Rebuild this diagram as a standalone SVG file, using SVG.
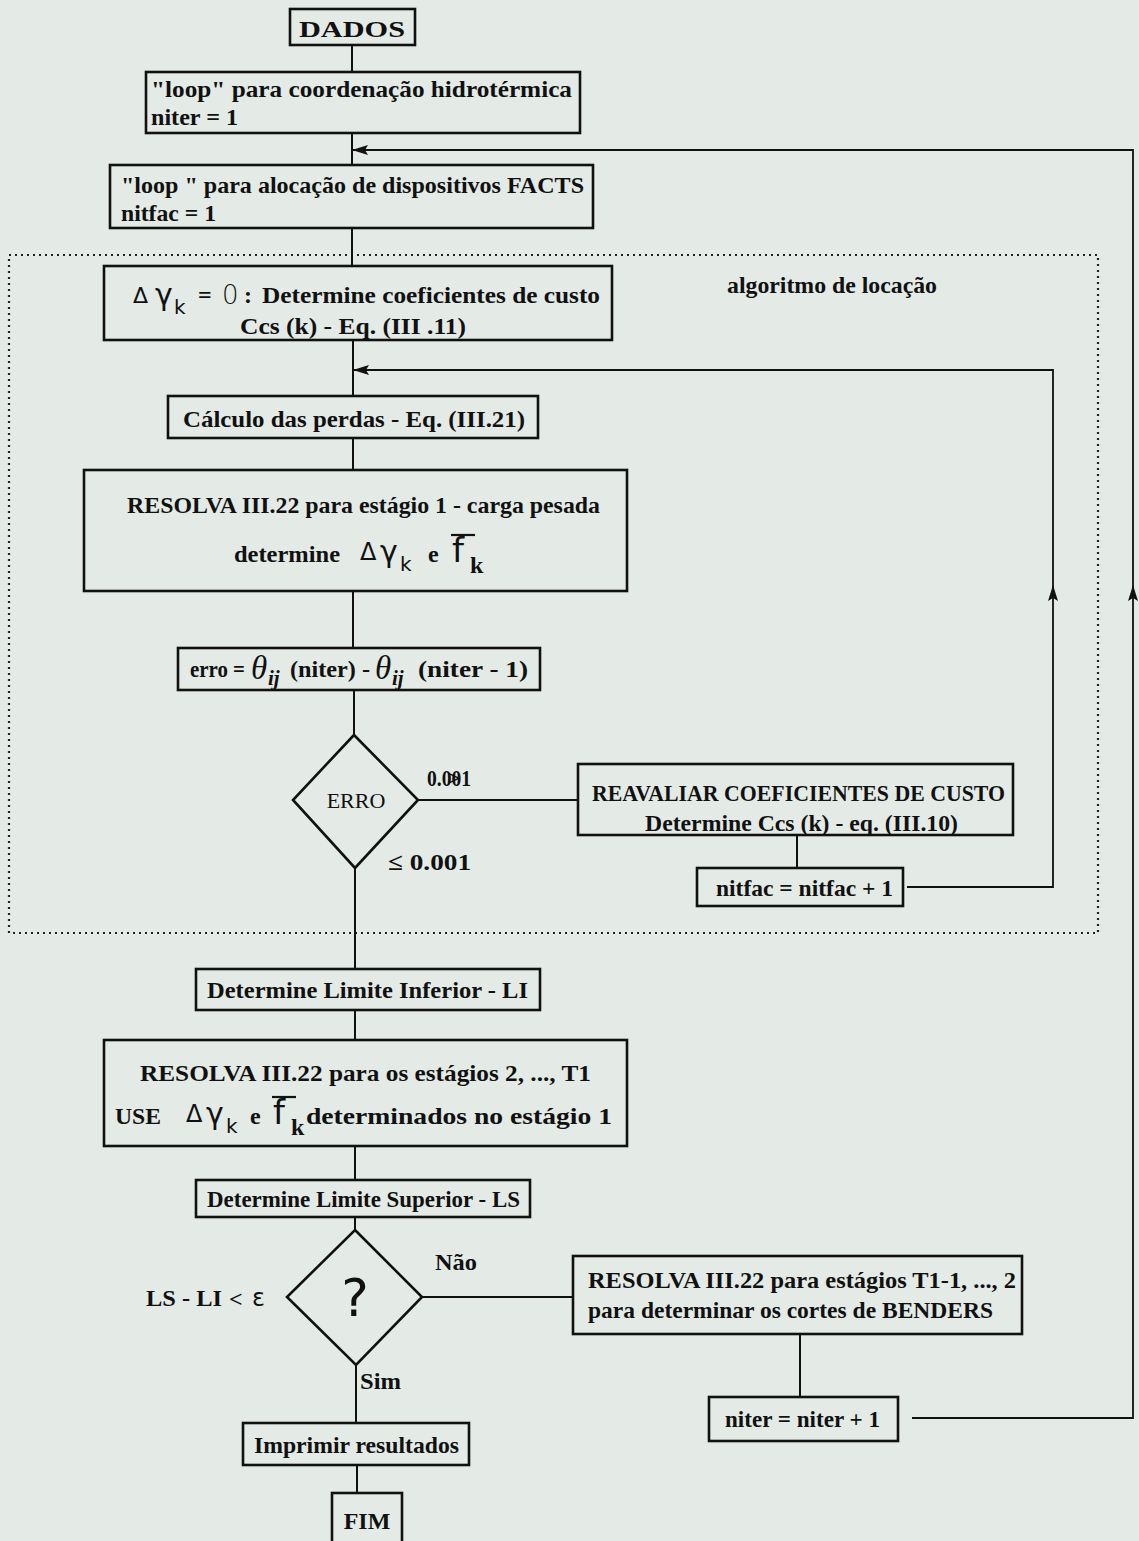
<svg xmlns="http://www.w3.org/2000/svg" width="1139" height="1541" viewBox="0 0 1139 1541">
<defs>
<style>
.bx{fill:none;stroke:#111;stroke-width:2.6}
.cn{fill:none;stroke:#111;stroke-width:2}
.lp{fill:none;stroke:#111;stroke-width:1.8}
.dot{fill:none;stroke:#222;stroke-width:2.2;stroke-dasharray:2 4}
.t{font-family:"Liberation Serif","Times New Roman",serif;font-weight:bold;fill:#111;font-size:24px}
.tn{font-family:"Liberation Serif","Times New Roman",serif;fill:#111;font-size:22px}
.s{font-family:"DejaVu Sans","Liberation Sans",sans-serif;fill:#111}
.th{font-family:"Liberation Serif","Times New Roman",serif;font-style:italic;fill:#111}
</style>
<marker id="ah" markerUnits="userSpaceOnUse" markerWidth="16" markerHeight="10" refX="15" refY="5" orient="auto">
<path d="M0,0 L16,5 L0,10 L3,5 Z" fill="#111"/>
</marker>
</defs>
<rect x="0" y="0" width="1139" height="1541" fill="#e4eae6"/>

<g id="region-locacao">
<rect x="9" y="255" width="1089" height="678" class="dot"/>
<text x="727" y="293" class="t" textLength="210" lengthAdjust="spacingAndGlyphs">algoritmo de locação</text>
</g>

<g id="connectors">
<path class="cn" d="M352,45 V72"/>
<path class="cn" d="M352,133 V165"/>
<path class="cn" d="M352,228 V266"/>
<path class="cn" d="M353,340 V396"/>
<path class="cn" d="M353,438 V470"/>
<path class="cn" d="M353,591 V648"/>
<path class="cn" d="M354,690 V735"/>
<path class="cn" d="M417,800 H578"/>
<path class="cn" d="M797,835 V868"/>
<path class="cn" d="M355,868 V969"/>
<path class="cn" d="M355,1010 V1040"/>
<path class="cn" d="M355,1146 V1180"/>
<path class="cn" d="M355,1217 V1230"/>
<path class="cn" d="M422,1297 H573"/>
<path class="cn" d="M800,1334 V1397"/>
<path class="cn" d="M356,1365 V1423"/>
<path class="cn" d="M357,1465 V1493"/>
<path class="lp" d="M907,887 H1053 V586" marker-end="url(#ah)"/>
<path class="lp" d="M1053,588 V370 H354" marker-end="url(#ah)"/>
<path class="lp" d="M912,1418 H1133 V586" marker-end="url(#ah)"/>
<path class="lp" d="M1133,588 V150 H353" marker-end="url(#ah)"/>
</g>

<g id="dados">
<rect x="290" y="9" width="125" height="36" class="bx"/>
<text x="352" y="37" class="t" font-size="31" text-anchor="middle" textLength="106" lengthAdjust="spacingAndGlyphs">DADOS</text>
</g>

<g id="loop-hidro">
<rect x="146" y="72" width="434" height="61" class="bx"/>
<text x="151" y="97" class="t" textLength="421" lengthAdjust="spacingAndGlyphs">"loop" para coordenação hidrotérmica</text>
<text x="151" y="125" class="t" textLength="87" lengthAdjust="spacingAndGlyphs">niter = 1</text>
</g>

<g id="loop-facts">
<rect x="110" y="165" width="483" height="63" class="bx"/>
<text x="121" y="193" class="t" textLength="463" lengthAdjust="spacingAndGlyphs">"loop " para alocação de dispositivos FACTS</text>
<text x="121" y="221" class="t" textLength="95" lengthAdjust="spacingAndGlyphs">nitfac = 1</text>
</g>

<g id="coef-custo">
<rect x="104" y="266" width="508" height="74" class="bx"/>
<text x="133" y="303" class="s" font-size="22">Δ</text>
<text x="155" y="305" class="s" font-size="30">γ</text>
<text x="174" y="314" class="s" font-size="20">k</text>
<text x="198" y="303" class="t" font-size="22">=</text>
<text x="222" y="304" class="s" font-size="26" font-weight="300">0</text>
<text x="244" y="303" class="t">:</text>
<text x="262" y="303" class="t" textLength="338" lengthAdjust="spacingAndGlyphs">Determine coeficientes de custo</text>
<text x="240" y="334" class="t" textLength="226" lengthAdjust="spacingAndGlyphs">Ccs (k) - Eq. (III .11)</text>
</g>

<g id="perdas">
<rect x="168" y="396" width="370" height="42" class="bx"/>
<text x="183" y="427" class="t" textLength="342" lengthAdjust="spacingAndGlyphs">Cálculo das perdas - Eq. (III.21)</text>
</g>

<g id="resolva-1">
<rect x="84" y="470" width="543" height="121" class="bx"/>
<text x="127" y="513" class="t" textLength="473" lengthAdjust="spacingAndGlyphs">RESOLVA  III.22 para estágio 1 - carga pesada</text>
<text x="234" y="562" class="t" textLength="106" lengthAdjust="spacingAndGlyphs">determine</text>
<text x="360" y="560" class="s" font-size="24">Δ</text>
<text x="380" y="562" class="s" font-size="30">γ</text>
<text x="400" y="571" class="s" font-size="20">k</text>
<text x="428" y="562" class="t" font-size="20">e</text>
<text x="452" y="562" class="s" font-size="34">f</text>
<path d="M451,535 H475" stroke="#111" stroke-width="2.2"/>
<text x="470" y="573" class="t" font-size="22">k</text>
</g>

<g id="erro-calc">
<rect x="178" y="648" width="362" height="42" class="bx"/>
<text x="190" y="677" class="t" font-size="22" textLength="55" lengthAdjust="spacingAndGlyphs">erro =</text>
<text x="251" y="679" class="th" font-size="33">θ</text>
<text x="268" y="685" class="th" font-size="21" font-weight="bold">ij</text>
<text x="290" y="677" class="t" font-size="22" textLength="80" lengthAdjust="spacingAndGlyphs">(niter) -</text>
<text x="375" y="679" class="th" font-size="33">θ</text>
<text x="392" y="685" class="th" font-size="21" font-weight="bold">ij</text>
<text x="418" y="677" class="t" font-size="22" textLength="110" lengthAdjust="spacingAndGlyphs">(niter - 1)</text>
</g>

<g id="erro-decisao">
<path class="bx" d="M354,735 L418,800 L355,868 L293,800 Z"/>
<text x="356" y="808" class="tn" text-anchor="middle" font-size="23">ERRO</text>
<text x="427" y="786" class="t" font-size="19" textLength="44" lengthAdjust="spacingAndGlyphs">0.001</text>
<text x="447" y="786" class="t" font-size="18">&gt;</text>
<text x="388" y="870" class="t" font-size="20" textLength="83" lengthAdjust="spacingAndGlyphs">≤ 0.001</text>
</g>

<g id="reavaliar">
<rect x="578" y="764" width="435" height="71" class="bx"/>
<text x="592" y="801" class="t" textLength="413" lengthAdjust="spacingAndGlyphs">REAVALIAR COEFICIENTES DE CUSTO</text>
<text x="645" y="831" class="t" textLength="313" lengthAdjust="spacingAndGlyphs">Determine Ccs (k) - eq. (III.10)</text>
</g>

<g id="nitfac-inc">
<rect x="697" y="868" width="206" height="38" class="bx"/>
<text x="716" y="896" class="t" textLength="177" lengthAdjust="spacingAndGlyphs">nitfac = nitfac + 1</text>
</g>

<g id="limite-inferior">
<rect x="196" y="969" width="344" height="41" class="bx"/>
<text x="207" y="998" class="t" textLength="321" lengthAdjust="spacingAndGlyphs">Determine Limite Inferior - LI</text>
</g>

<g id="resolva-2">
<rect x="104" y="1040" width="523" height="106" class="bx"/>
<text x="140" y="1081" class="t" textLength="451" lengthAdjust="spacingAndGlyphs">RESOLVA  III.22 para os estágios 2, ..., T1</text>
<text x="115" y="1124" class="t" textLength="46" lengthAdjust="spacingAndGlyphs">USE</text>
<text x="186" y="1122" class="s" font-size="24">Δ</text>
<text x="206" y="1124" class="s" font-size="30">γ</text>
<text x="226" y="1133" class="s" font-size="20">k</text>
<text x="250" y="1124" class="t" font-size="20">e</text>
<text x="273" y="1124" class="s" font-size="34">f</text>
<path d="M272,1097 H296" stroke="#111" stroke-width="2.2"/>
<text x="291" y="1135" class="t" font-size="22">k</text>
<text x="306" y="1124" class="t" textLength="306" lengthAdjust="spacingAndGlyphs">determinados no estágio 1</text>
</g>

<g id="limite-superior">
<rect x="196" y="1180" width="334" height="37" class="bx"/>
<text x="207" y="1207" class="t" textLength="313" lengthAdjust="spacingAndGlyphs">Determine Limite Superior - LS</text>
</g>

<g id="convergencia">
<path class="bx" d="M355,1230 L422,1297 L356,1365 L287,1297 Z"/>
<text x="355" y="1316" class="s" font-size="52" text-anchor="middle">?</text>
<text x="146" y="1306" class="t" font-size="22" textLength="76" lengthAdjust="spacingAndGlyphs">LS - LI</text>
<text x="229" y="1307" class="t" font-size="28">&lt;</text>
<text x="252" y="1306" class="s" font-size="24">ε</text>
<text x="435" y="1270" class="t" font-size="21" textLength="42" lengthAdjust="spacingAndGlyphs">Não</text>
<text x="360" y="1389" class="t" font-size="21" textLength="41" lengthAdjust="spacingAndGlyphs">Sim</text>
</g>

<g id="resolva-benders">
<rect x="573" y="1256" width="449" height="78" class="bx"/>
<text x="588" y="1288" class="t" textLength="428" lengthAdjust="spacingAndGlyphs">RESOLVA III.22 para estágios T1-1, ..., 2</text>
<text x="588" y="1318" class="t" textLength="405" lengthAdjust="spacingAndGlyphs">para determinar os cortes de BENDERS</text>
</g>

<g id="niter-inc">
<rect x="709" y="1397" width="189" height="44" class="bx"/>
<text x="725" y="1427" class="t" textLength="155" lengthAdjust="spacingAndGlyphs">niter = niter + 1</text>
</g>

<g id="imprimir">
<rect x="243" y="1423" width="226" height="42" class="bx"/>
<text x="254" y="1453" class="t" textLength="205" lengthAdjust="spacingAndGlyphs">Imprimir resultados</text>
</g>

<g id="fim">
<rect x="332" y="1493" width="70" height="60" class="bx"/>
<text x="367" y="1529" class="t" text-anchor="middle" font-size="23">FIM</text>
</g>
</svg>
